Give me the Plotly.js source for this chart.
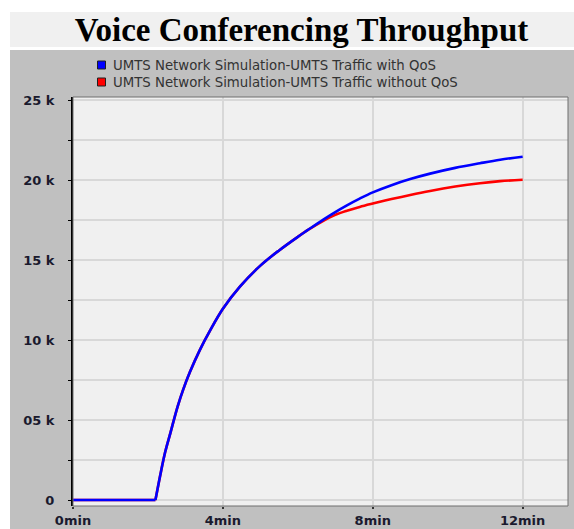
<!DOCTYPE html>
<html><head><meta charset="utf-8">
<script src="https://cdn.plot.ly/plotly-3.0.1.min.js"></script>
<style>html,body{margin:0;padding:0;background:#fff;}#chart{width:574px;height:529px;}</style>
</head><body><div id="chart"></div>
<script>
// Data (time in minutes, throughput in bits/sec)
const timeMin = [0, 2.2, 2.35, 2.46, 2.6, 2.68, 2.8, 2.94, 3.12, 3.39, 3.66, 4.0, 4.46, 5.0, 5.5, 6.0, 6.25, 6.68, 7.0, 7.31, 7.65, 8.0, 8.5, 9.0, 9.53, 10.2, 10.86, 11.4, 12.0];
const withQoS = [0, 0, 1800, 3000, 4200, 4900, 5900, 6900, 8000, 9400, 10600, 11950, 13350, 14650, 15600, 16450, 16850, 17530, 18000, 18420, 18840, 19230, 19680, 20060, 20400, 20760, 21050, 21270, 21460];
const withoutQoS = [0, 0, 1800, 3000, 4200, 4900, 5900, 6900, 8000, 9400, 10600, 11950, 13350, 14650, 15600, 16450, 16850, 17450, 17820, 18080, 18320, 18530, 18810, 19070, 19320, 19590, 19800, 19930, 20020];
const seriesNames = ['UMTS Network Simulation-UMTS Traffic with QoS', 'UMTS Network Simulation-UMTS Traffic without QoS'];
const seriesColors = ['#0000ff', '#ff0000'];
const xTickVals = [0, 4, 8, 12];
const xTickText = ['0min', '4min', '8min', '12min'];
const yTickVals = [0, 5000, 10000, 15000, 20000, 25000];
const yTickText = ['0', '05 k', '10 k', '15 k', '20 k', '25 k'];
const chartTitle = 'Voice Conferencing Throughput';

// geometry helpers (pixel -> paper)
const L = 73, T = 97, W = 495, H = 409;
const px = v => (v - L) / W;
const py = v => (T + H - v) / H;

// idle segment (linear) + rising segment (smooth), both from the same arrays
function seriesTraces(y, i) {
  return [
    {x: timeMin.slice(0, 2), y: y.slice(0, 2), name: seriesNames[i], mode: 'lines', line: {color: seriesColors[i], width: 2.6}, showlegend: false, hoverinfo: 'skip'},
    {x: timeMin.slice(1), y: y.slice(1), name: seriesNames[i], mode: 'lines', line: {color: seriesColors[i], width: 2.6, shape: 'spline', smoothing: 1}, showlegend: false, hoverinfo: 'skip'}
  ];
}
const traces = seriesTraces(withoutQoS, 1).concat(seriesTraces(withQoS, 0));

const shapes = [
  {type: 'rect', xref: 'paper', yref: 'paper', x0: px(10), x1: px(574), y0: py(12), y1: py(47), fillcolor: '#f0f0f0', line: {width: 0}, layer: 'below'},
  {type: 'rect', xref: 'paper', yref: 'paper', x0: px(10), x1: px(574), y0: py(529), y1: py(50), fillcolor: '#c0c0c0', line: {width: 0}, layer: 'below'},
  {type: 'rect', xref: 'paper', yref: 'paper', x0: 0, x1: 1, y0: 0, y1: 1, fillcolor: '#f0f0f0', line: {width: 0}, layer: 'below'},
  {type: 'rect', xref: 'paper', yref: 'paper', x0: 0, x1: 1, y0: 0, y1: 1, fillcolor: 'rgba(0,0,0,0)', line: {color: '#6e6e6e', width: 1}, layer: 'above'}
];
const annotations = [];
[65, 82].forEach((cy, i) => {
  shapes.push({type: 'rect', xref: 'paper', yref: 'paper', x0: px(97.5), x1: px(105.5), y0: py(cy + 4), y1: py(cy - 4), fillcolor: seriesColors[i], line: {color: '#202020', width: 1}, layer: 'above'});
  annotations.push({xref: 'paper', yref: 'paper', x: px(111), y: py(cy), xanchor: 'left', yanchor: 'middle', showarrow: false, text: seriesNames[i], font: {family: 'DejaVu Sans', size: 13.3, color: '#333333'}});
});

const tickFont = {family: 'DejaVu Sans', size: 13, color: '#1a1a2e', weight: 'bold'};
const layout = {
  width: 574, height: 529,
  margin: {l: L, r: 574 - L - W, t: T, b: 529 - T - H, pad: 0},
  paper_bgcolor: '#ffffff', plot_bgcolor: '#f0f0f0',
  title: {text: chartTitle, font: {family: 'Liberation Serif', size: 33, color: '#000000', weight: 'bold'}, xref: 'paper', x: px(301.5), xanchor: 'center', yref: 'container', y: 1 - 29 / 529, yanchor: 'middle'},
  showlegend: false,
  xaxis: {range: [0, 13.21], tickmode: 'array', tickvals: xTickVals, ticktext: xTickText, ticks: 'outside', ticklen: 2, tickwidth: 2, tickcolor: '#333', showgrid: true, gridcolor: '#d8d8d8', gridwidth: 2, zeroline: false, showline: false, tickfont: tickFont, fixedrange: true},
  yaxis: {range: [-375, 25190], tickmode: 'array', tickvals: yTickVals, ticktext: yTickText, ticks: 'outside', ticklen: 3, tickcolor: '#000', ticklabelstandoff: 11, showgrid: true, gridcolor: '#d8d8d8', gridwidth: 2, zeroline: false, showline: true, linecolor: '#000', linewidth: 2, tickfont: tickFont, fixedrange: true,
    minor: {tickmode: 'linear', tick0: 0, dtick: 2500, ticks: 'outside', ticklen: 3, tickcolor: '#000', showgrid: true, gridcolor: '#d8d8d8', gridwidth: 2}},
  shapes: shapes,
  annotations: annotations
};
Plotly.newPlot('chart', traces, layout, {staticPlot: true, displayModeBar: false});
</script></body></html>
